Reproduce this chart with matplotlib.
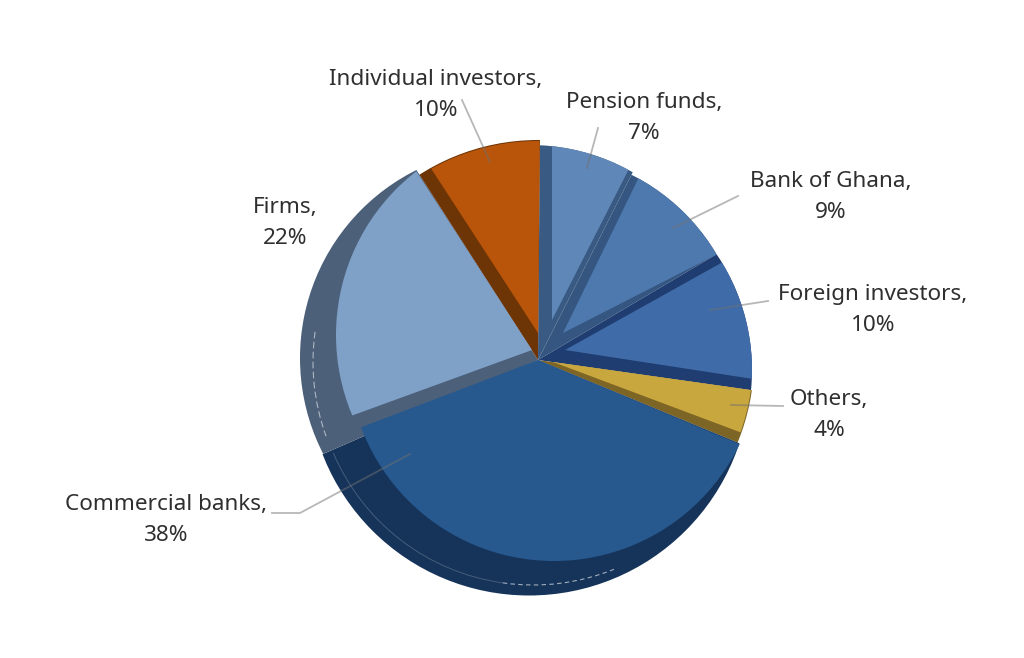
import matplotlib
matplotlib.use('Agg')
import matplotlib.pyplot as plt
from matplotlib.patches import Arc, Circle

H = 658

# shares as drawn in the picture, clockwise from the top (labels are rounded differently)
names = ['Pension funds', 'Bank of Ghana', 'Foreign investors', 'Others',
         'Commercial banks', 'Firms', 'Individual investors']
label_pct = [7, 9, 10, 4, 38, 22, 10]
shares = [7.3, 9.05, 10.75, 4.0, 37.2, 22.5, 9.2]

face_colors = ['#5f87b8', '#4e79ae', '#3f6ba8', '#c9a73f', '#27598f', '#7fa1c8', '#b9550a']
side_colors = ['#395a82', '#345680', '#1f3d70', '#7d6526', '#16345a', '#4c6079', '#6d3405']

# top face of each slice: its own tip (image pixels) and a nudge of its two edge angles
face_tip = [(552, 320), (563, 333), (565, 350), (553, 362), (538, 360), (532, 350), (538, 333)]
nudge_theta1 = [-0.2, -3.6, -0.7, 1.9, -2.8, 0.3, 0.0]
nudge_theta2 = [0.5, 0.8, -1.5, 0.0, -0.2, -3.6, 0.4]

# circles (x, y, r in image pixels) that cut the outer edge of each slice
face_arc = [(530, 352, 207), (538, 360, 207.5), (545, 370, 207), (538, 360, 215),
            (554, 355, 206), (543, 335, 207), (538, 360, 219)]
side_arc = [(530, 352, 207), (538, 360, 207.5), (545, 370, 207), (538, 360, 216),
            (529, 374, 221.5), (510, 358, 210), (538, 360, 220)]

label_pos = [(644, 118), (831, 197), (873, 310), (829, 415), (166, 520), (285, 223), (436, 95)]
leaders = [
    [(598, 128), (587, 168)],
    [(738, 196), (673, 228)],
    [(768, 301), (710, 310)],
    [(783, 406), (731, 405)],
    [(272, 513), (300, 513), (410, 454)],
    [],
    [(462, 100), (490, 162)],
]

apex = (538, H - 360)
start = 89.5

fig = plt.figure(figsize=(10.24, 6.58), dpi=100)
ax = fig.add_axes([0, 0, 1, 1])

sides, _ = ax.pie(shares, colors=side_colors, startangle=start, counterclock=False,
                  center=apex, radius=300)
faces, _ = ax.pie(shares, colors=face_colors, startangle=start, counterclock=False,
                  center=apex, radius=300)

for i in range(len(shares)):
    faces[i].set_theta1(faces[i].theta1 + nudge_theta1[i])
    faces[i].set_theta2(faces[i].theta2 + nudge_theta2[i])
    faces[i].set_center((face_tip[i][0], H - face_tip[i][1]))
    x, y, r = side_arc[i]
    sides[i].set_clip_on(True)
    sides[i].set_clip_path(Circle((x, H - y), r, transform=ax.transData))
    x, y, r = face_arc[i]
    faces[i].set_clip_on(True)
    faces[i].set_clip_path(Circle((x, H - y), r, transform=ax.transData))

# faint rim lines on the thick edge
ax.add_patch(Arc((530, H - 362), 434, 434, theta1=172, theta2=200, color='white',
                 lw=0.8, alpha=0.55, ls=(0, (6, 3)), zorder=1.5))
ax.add_patch(Arc((533, H - 368), 434, 434, theta1=203, theta2=262, color='white',
                 lw=0.7, alpha=0.2, zorder=1.5))
ax.add_patch(Arc((533, H - 368), 434, 434, theta1=262, theta2=292, color='white',
                 lw=0.8, alpha=0.6, ls=(0, (4, 3)), zorder=1.5))

for i, name in enumerate(names):
    ax.text(label_pos[i][0], H - label_pos[i][1], '%s,\n%d%%' % (name, label_pct[i]),
            ha='center', va='center', fontsize=16.2, family='Noto Sans',
            color='#2f2f2f', linespacing=1.6, zorder=5)
    if leaders[i]:
        ax.plot([p[0] for p in leaders[i]], [H - p[1] for p in leaders[i]],
                color='#707070', alpha=0.5, lw=1.3, zorder=4)

ax.set_xlim(0, 1024)
ax.set_ylim(0, H)
ax.axis('off')
fig.savefig('out.png', dpi=100, facecolor='white')
